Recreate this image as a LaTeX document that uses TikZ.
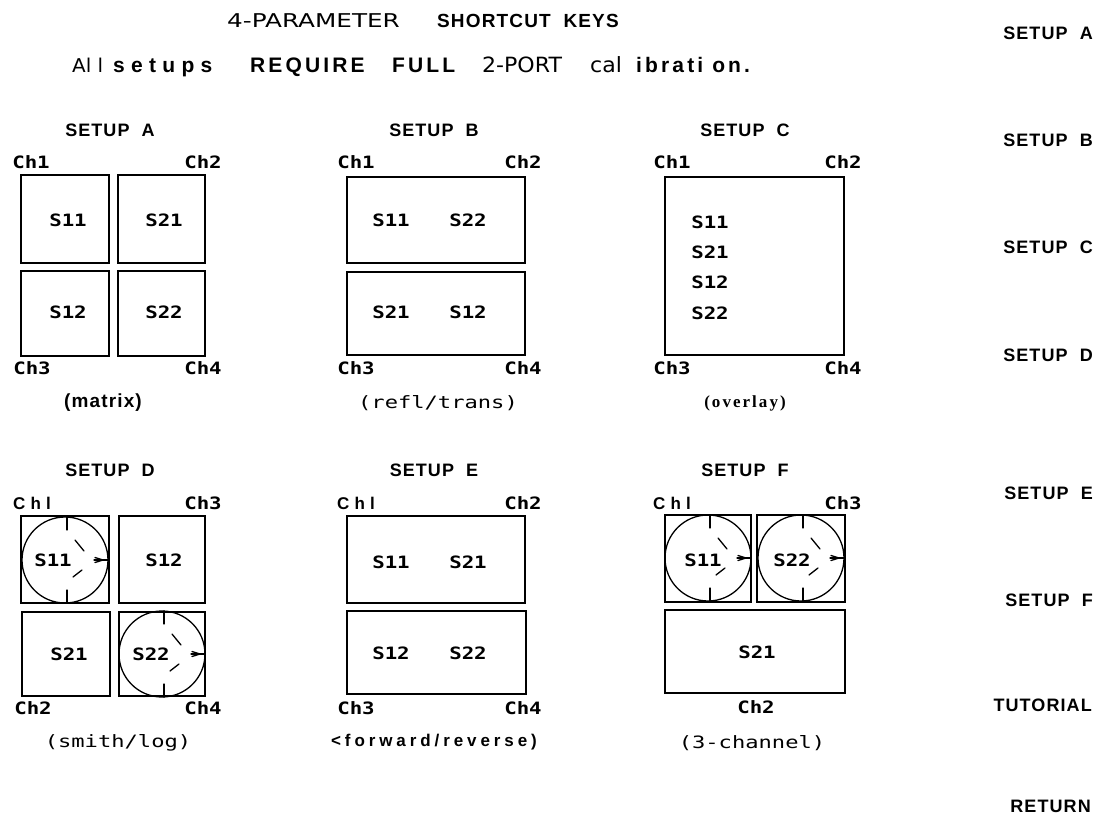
\documentclass[tikz,border=0pt]{standalone}
\usepackage{fontspec}
\setmainfont{Liberation Sans}
\newfontfamily\hv[LetterSpace=6]{Liberation Sans}
\newfontfamily\hvwide[LetterSpace=15]{Liberation Sans}
\newfontfamily\hvxwide[LetterSpace=30]{Liberation Sans}
\newfontfamily\hvfwd[LetterSpace=23]{Liberation Sans}
\newfontfamily\hvchl[LetterSpace=30]{Liberation Sans}
\newfontfamily\plotfont[FakeStretch=1.22]{DejaVu Sans Mono}
\newfontfamily\plotwide[FakeStretch=1.3]{DejaVu Sans Mono}
\newfontfamily\thinfont[FakeStretch=1.3]{DejaVu Sans}
\newfontfamily\thinline[FakeStretch=1.05]{DejaVu Sans}
\newfontfamily\serifsp[LetterSpace=12]{Liberation Serif}
\newcommand\smithchart[2]{%
  \draw[smith] (#1,#2) circle[radius=43];
  \draw[smith] (#1+2,#2-43) -- (#1+2,#2-30);
  \draw[smith] (#1+2,#2+30) -- (#1+2,#2+43);
  \draw[smith] (#1+10,#2-20) -- (#1+19,#2-9);
  \draw[smith] (#1+8,#2+17) -- (#1+17,#2+10);
  \draw[smith] (#1+30,#2-2.5) -- (#1+38,#2) -- (#1+30,#2+2.5);
  \draw[smith] (#1+29,#2) -- (#1+43,#2);
}
\begin{document}
\begin{tikzpicture}[x=1pt,y=-1pt,
  scr/.style={draw, line width=2pt},
  smith/.style={line width=1.3pt, line cap=round},
  setuplbl/.style={font=\hv\bfseries\fontsize{18}{20}\selectfont, inner sep=0pt},
  sidelbl/.style={font=\hv\bfseries\fontsize{18}{20}\selectfont, inner sep=0pt, anchor=east},
  chlbl/.style={font=\plotfont\bfseries\fontsize{17}{19}\selectfont, inner sep=0pt},
  chllbl/.style={font=\hvchl\bfseries\fontsize{17}{19}\selectfont, inner sep=0pt},
  slbl/.style={font=\plotfont\bfseries\fontsize{17}{19}\selectfont, inner sep=0pt},
  caplbl/.style={font=\plotwide\fontsize{17}{19}\selectfont, inner sep=0pt},
  boldword/.style={font=\hvwide\bfseries\fontsize{21}{23}\selectfont, inner sep=0pt, anchor=base west},
  thinword/.style={font=\thinline\fontsize{21}{23}\selectfont, inner sep=0pt, anchor=base west}]
\useasboundingbox (0,0) rectangle (1101,817);

% ---- title ----
\node[font=\thinfont\fontsize{19}{21}\selectfont, inner sep=0pt, anchor=base west] (t1) at (227,27) {4-PARAMETER};
\node[font=\hv\bfseries\fontsize{19}{21}\selectfont, inner sep=0pt, anchor=base west] (t2) at (437,27) {SHORTCUT~~KEYS};
\node[thinword, font=\thinline\fontsize{19}{21}\selectfont] (w1) at (72,72) {Al l};
\node[boldword, font=\hvxwide\bfseries\fontsize{21}{23}\selectfont] (w2) at (113,72) {setups};
\node[boldword] (w3) at (250,72) {REQUIRE};
\node[boldword] (w4) at (392,72) {FULL};
\node[thinword] (w5) at (482,72) {2-PORT};
\node[thinword] (w6) at (590,72) {cal};
\node[boldword] (w7) at (636,72) {ibrati on.};

% ---- right column ----
\node[sidelbl] (kA) at (1093,33) {SETUP~~A};
\node[sidelbl] (kB) at (1093,140) {SETUP~~B};
\node[sidelbl] (kC) at (1093,247) {SETUP~~C};
\node[sidelbl] (kD) at (1093,355) {SETUP~~D};
\node[sidelbl] (kE) at (1093,493) {SETUP~~E};
\node[sidelbl] (kF) at (1093,600) {SETUP~~F};
\node[sidelbl] (kT) at (1092,705) {TUTORIAL};
\node[sidelbl] (kR) at (1091,806) {RETURN};

% ---- SETUP A ----
\node[setuplbl] (la) at (110,130) {SETUP~~A};
\node[chlbl] (a1) at (31,162) {Ch1};
\node[chlbl] (a2) at (203,162) {Ch2};
\node[chlbl] (a3) at (32,368) {Ch3};
\node[chlbl] (a4) at (203,368) {Ch4};
\draw[scr] (21,175) rectangle (109,263);
\draw[scr] (118,175) rectangle (205,263);
\draw[scr] (21,271) rectangle (109,356);
\draw[scr] (118,271) rectangle (205,356);
\node[slbl] (as11) at (68,220) {S11};
\node[slbl] (as21) at (164,220) {S21};
\node[slbl] (as12) at (68,312) {S12};
\node[slbl] (as22) at (164,312) {S22};
\node[font=\hv\bfseries\fontsize{19}{21}\selectfont, inner sep=0pt] (ca) at (103,403) {(matrix)};

% ---- SETUP B ----
\node[setuplbl] (lb) at (434,130) {SETUP~~B};
\node[chlbl] (b1) at (356,162) {Ch1};
\node[chlbl] (b2) at (523,162) {Ch2};
\node[chlbl] (b3) at (356,368) {Ch3};
\node[chlbl] (b4) at (523,368) {Ch4};
\draw[scr] (347,177) rectangle (525,263);
\draw[scr] (347,272) rectangle (525,355);
\node[slbl] (bs11) at (391,220) {S11};
\node[slbl] (bs22) at (468,220) {S22};
\node[slbl] (bs21) at (391,312) {S21};
\node[slbl] (bs12) at (468,312) {S12};
\node[caplbl] (cb) at (438,403) {(refl/trans)};

% ---- SETUP C ----
\node[setuplbl] (lc) at (745,130) {SETUP~~C};
\node[chlbl] (c1) at (672,162) {Ch1};
\node[chlbl] (c2) at (843,162) {Ch2};
\node[chlbl] (c3) at (672,368) {Ch3};
\node[chlbl] (c4) at (843,368) {Ch4};
\draw[scr] (665,177) rectangle (844,355);
\node[slbl] (cs11) at (710,222) {S11};
\node[slbl] (cs21) at (710,252) {S21};
\node[slbl] (cs12) at (710,282) {S12};
\node[slbl] (cs22) at (710,313) {S22};
\node[font=\serifsp\bfseries\fontsize{17}{19}\selectfont, inner sep=0pt] (cc) at (745,403) {(overlay)};

% ---- SETUP D ----
\node[setuplbl] (ld) at (110,470) {SETUP~~D};
\node[chllbl] (d1) at (32,503) {Chl};
\node[chlbl] (d3) at (203,503) {Ch3};
\node[chlbl] (d2) at (33,708) {Ch2};
\node[chlbl] (d4) at (203,708) {Ch4};
\draw[scr] (21,516) rectangle (109,603);
\draw[scr] (119,516) rectangle (205,603);
\draw[scr] (22,612) rectangle (110,696);
\draw[scr] (119,612) rectangle (205,696);
\smithchart{65}{560}
\smithchart{162}{654}
\node[slbl] (ds11) at (53,560) {S11};
\node[slbl] (ds12) at (164,560) {S12};
\node[slbl] (ds21) at (69,654) {S21};
\node[slbl] (ds22) at (151,654) {S22};
\node[caplbl] (cd) at (118,743) {(smith/log)};

% ---- SETUP E ----
\node[setuplbl] (le) at (434,470) {SETUP~~E};
\node[chllbl] (e1) at (356,503) {Chl};
\node[chlbl] (e2) at (523,503) {Ch2};
\node[chlbl] (e3) at (356,708) {Ch3};
\node[chlbl] (e4) at (523,708) {Ch4};
\draw[scr] (347,516) rectangle (525,603);
\draw[scr] (347,611) rectangle (526,694);
\node[slbl] (es11) at (391,562) {S11};
\node[slbl] (es21) at (468,562) {S21};
\node[slbl] (es12) at (391,653) {S12};
\node[slbl] (es22) at (468,653) {S22};
\node[font=\hvfwd\bfseries\fontsize{17}{19}\selectfont, inner sep=0pt] (ce) at (434,742) {<forward/reverse)};

% ---- SETUP F ----
\node[setuplbl] (lf) at (745,470) {SETUP~~F};
\node[chllbl] (f1) at (672,503) {Chl};
\node[chlbl] (f3) at (843,503) {Ch3};
\draw[scr] (665,515) rectangle (751,602);
\draw[scr] (757,515) rectangle (845,602);
\draw[scr] (665,610) rectangle (845,693);
\smithchart{708}{558}
\smithchart{801}{558}
\node[slbl] (fs11) at (703,560) {S11};
\node[slbl] (fs22) at (792,560) {S22};
\node[slbl] (fs21) at (757,652) {S21};
\node[chlbl] (f2) at (756,707) {Ch2};
\node[caplbl] (cf) at (752,743) {(3-channel)};
\end{tikzpicture}
\end{document}
